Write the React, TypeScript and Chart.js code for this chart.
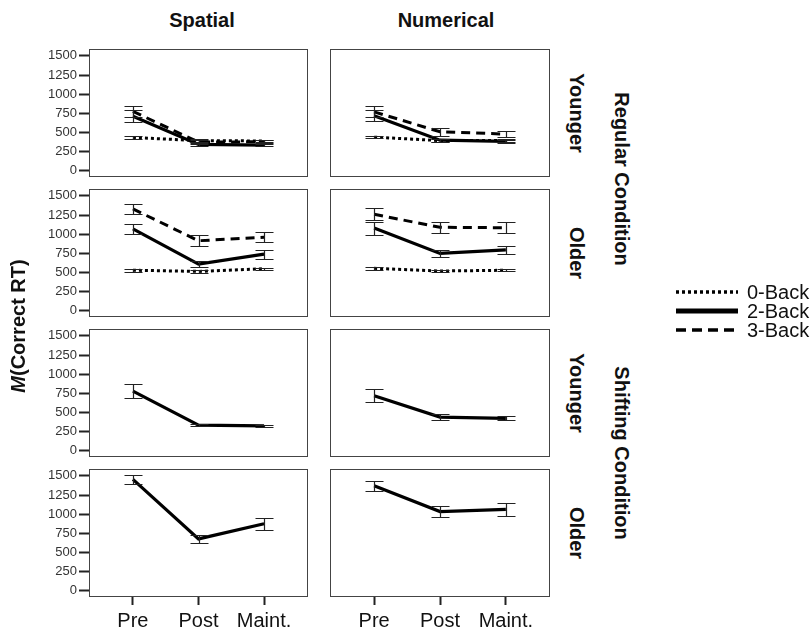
import React, { useEffect, useRef } from 'react';
import { Chart, registerables } from 'chart.js';

Chart.register(...registerables);

const phases = ['Pre', 'Post', 'Maint.'];
const yTicks = [0, 250, 500, 750, 1000, 1250, 1500];
const seriesNames = ['0-Back', '2-Back', '3-Back'];
const columnNames = ['Spatial', 'Numerical'];
const ageNames = ['Younger', 'Older', 'Younger', 'Older'];
const conditionNames = ['Regular Condition', 'Shifting Condition'];

// Regular condition, younger
const regYoungSpatial0 = [435, 395, 390];
const regYoungSpatial0Err = [15, 15, 15];
const regYoungSpatial2 = [712, 345, 335];
const regYoungSpatial2Err = [78, 20, 15];
const regYoungSpatial3 = [776, 375, 380];
const regYoungSpatial3Err = [76, 25, 20];

const regYoungNumerical0 = [440, 395, 395];
const regYoungNumerical0Err = [15, 15, 15];
const regYoungNumerical2 = [720, 400, 385];
const regYoungNumerical2Err = [75, 20, 15];
const regYoungNumerical3 = [770, 510, 480];
const regYoungNumerical3Err = [70, 55, 40];

// Regular condition, older
const regOldSpatial0 = [530, 515, 550];
const regOldSpatial0Err = [20, 18, 15];
const regOldSpatial2 = [1070, 610, 740];
const regOldSpatial2Err = [65, 40, 60];
const regOldSpatial3 = [1330, 915, 960];
const regOldSpatial3Err = [65, 70, 67];

const regOldNumerical0 = [555, 520, 530];
const regOldNumerical0Err = [20, 15, 15];
const regOldNumerical2 = [1080, 750, 795];
const regOldNumerical2Err = [85, 45, 55];
const regOldNumerical3 = [1260, 1090, 1085];
const regOldNumerical3Err = [80, 75, 70];

// Shifting condition
const shiftYoungSpatial = [780, 335, 325];
const shiftYoungSpatialErr = [95, 15, 10];
const shiftYoungNumerical = [720, 440, 425];
const shiftYoungNumericalErr = [85, 35, 25];
const shiftOldSpatial = [1455, 678, 875];
const shiftOldSpatialErr = [63, 55, 80];
const shiftOldNumerical = [1370, 1035, 1063];
const shiftOldNumericalErr = [67, 75, 80];

const FONT = '"Liberation Sans", Arial, Helvetica, sans-serif';
const DASHES = [[3, 3], [], [9, 6]];
const WIDTHS = [3, 3.2, 3];

type Series = { name: string; values: number[]; errs: number[]; dash: number[]; width: number };

const mk = (idx: number, values: number[], errs: number[]): Series => ({
  name: seriesNames[idx],
  values,
  errs,
  dash: DASHES[idx],
  width: WIDTHS[idx],
});

const panels: { row: number; col: number; series: Series[] }[] = [
  { row: 0, col: 0, series: [mk(0, regYoungSpatial0, regYoungSpatial0Err), mk(2, regYoungSpatial3, regYoungSpatial3Err), mk(1, regYoungSpatial2, regYoungSpatial2Err)] },
  { row: 0, col: 1, series: [mk(0, regYoungNumerical0, regYoungNumerical0Err), mk(2, regYoungNumerical3, regYoungNumerical3Err), mk(1, regYoungNumerical2, regYoungNumerical2Err)] },
  { row: 1, col: 0, series: [mk(0, regOldSpatial0, regOldSpatial0Err), mk(2, regOldSpatial3, regOldSpatial3Err), mk(1, regOldSpatial2, regOldSpatial2Err)] },
  { row: 1, col: 1, series: [mk(0, regOldNumerical0, regOldNumerical0Err), mk(2, regOldNumerical3, regOldNumerical3Err), mk(1, regOldNumerical2, regOldNumerical2Err)] },
  { row: 2, col: 0, series: [mk(1, shiftYoungSpatial, shiftYoungSpatialErr)] },
  { row: 2, col: 1, series: [mk(1, shiftYoungNumerical, shiftYoungNumericalErr)] },
  { row: 3, col: 0, series: [mk(1, shiftOldSpatial, shiftOldSpatialErr)] },
  { row: 3, col: 1, series: [mk(1, shiftOldNumerical, shiftOldNumericalErr)] },
];

const COL_LEFT = [89, 330];
const COL_W = [219, 220];
const ROW_TOP = [49, 189, 329, 469];
const BOX_H = 128;

const boxPlugin = {
  id: 'boxFrame',
  afterDraw(chart: any) {
    const { ctx, chartArea } = chart;
    ctx.save();
    ctx.strokeStyle = '#444';
    ctx.lineWidth = 1;
    ctx.strokeRect(
      Math.round(chartArea.left) + 0.5,
      Math.round(chartArea.top) + 0.5,
      Math.round(chartArea.right - chartArea.left) - 1,
      Math.round(chartArea.bottom - chartArea.top) - 1
    );
    ctx.restore();
  },
};

const errPlugin = {
  id: 'errBars',
  afterDatasetsDraw(chart: any) {
    const { ctx } = chart;
    const ys = chart.scales.y;
    chart.data.datasets.forEach((ds: any, i: number) => {
      const meta = chart.getDatasetMeta(i);
      (ds.errs || []).forEach((e: number, j: number) => {
        const pt = meta.data[j];
        if (!pt) return;
        const v = ds.data[j].y;
        const top = Math.round(ys.getPixelForValue(v + e)) + 0.5;
        const bot = Math.round(ys.getPixelForValue(v - e)) + 0.5;
        const x = Math.round(pt.x) + 0.5;
        ctx.save();
        ctx.strokeStyle = '#222';
        ctx.lineWidth = 1.2;
        ctx.setLineDash([]);
        ctx.beginPath();
        ctx.moveTo(x, top);
        ctx.lineTo(x, bot);
        ctx.moveTo(x - 9, top);
        ctx.lineTo(x + 9, top);
        ctx.moveTo(x - 9, bot);
        ctx.lineTo(x + 9, bot);
        ctx.stroke();
        ctx.restore();
      });
    });
  },
};

function Panel({ row, col, series }: { row: number; col: number; series: Series[] }) {
  const ref = useRef<HTMLCanvasElement>(null);
  const showY = col === 0;
  const showX = row === 3;
  const yAxisW = showY ? 60 : 0;
  const xAxisH = showX ? 38 : 0;
  const pad = 2;
  const boxW = COL_W[col];
  const cw = boxW + yAxisW + pad * 2;
  const ch = BOX_H + xAxisH + pad * 2;
  const left = COL_LEFT[col] - yAxisW - pad;
  const top = ROW_TOP[row] - pad;

  useEffect(() => {
    if (!ref.current) return;
    const chart = new Chart(ref.current, {
      type: 'line',
      data: {
        datasets: series.map((s) => ({
          label: s.name,
          data: s.values.map((v, i) => ({ x: i, y: v })),
          borderColor: '#000',
          borderWidth: s.width,
          borderDash: s.dash,
          borderCapStyle: 'butt',
          pointRadius: 0,
          tension: 0,
          fill: false,
          errs: s.errs,
        })) as any,
      },
      options: {
        animation: false,
        responsive: false,
        maintainAspectRatio: false,
        devicePixelRatio: 1,
        layout: { padding: pad },
        plugins: { legend: { display: false }, tooltip: { enabled: false } },
        scales: {
          x: {
            type: 'linear',
            min: -0.67,
            max: 2.67,
            display: showX,
            afterBuildTicks: (s: any) => {
              s.ticks = phases.map((_, i) => ({ value: i }));
            },
            afterFit: (s: any) => {
              s.height = xAxisH;
              s.paddingLeft = 0;
              s.paddingRight = 0;
            },
            ticks: {
              callback: (v: any) => phases[Number(v)],
              font: { family: FONT, size: 20 },
              color: '#111',
              padding: 4,
              maxRotation: 0,
              autoSkip: false,
            },
            grid: { drawOnChartArea: false, drawTicks: true, tickLength: 8, tickWidth: 2, tickColor: '#222' },
            border: { display: false },
          },
          y: {
            type: 'linear',
            min: -80,
            max: 1590,
            display: showY,
            afterBuildTicks: (s: any) => {
              s.ticks = yTicks.map((v) => ({ value: v }));
            },
            afterFit: (s: any) => {
              s.width = yAxisW;
              s.paddingTop = 0;
              s.paddingBottom = 0;
            },
            ticks: {
              callback: (v: any) => String(v),
              font: { family: FONT, size: 13 },
              color: '#333',
              padding: 2,
              autoSkip: false,
            },
            grid: { drawOnChartArea: false, drawTicks: true, tickLength: 10, tickWidth: 2, tickColor: '#222' },
            border: { display: false },
          },
        },
      } as any,
      plugins: [boxPlugin, errPlugin],
    });
    return () => chart.destroy();
  }, []);

  return (
    <canvas
      ref={ref}
      width={cw}
      height={ch}
      style={{ position: 'absolute', left, top, width: cw, height: ch }}
    />
  );
}

function Label({ x, y, rot = 0, size = 20, bold = true, children }: any) {
  return (
    <div
      style={{
        position: 'absolute',
        left: x,
        top: y,
        transform: `translate(-50%, -50%) rotate(${rot}deg)`,
        whiteSpace: 'nowrap',
        fontFamily: FONT,
        fontSize: size,
        fontWeight: bold ? 700 : 400,
        lineHeight: 1,
        color: '#111',
      }}
    >
      {children}
    </div>
  );
}

const legendY = [292, 311, 330];

export default function App() {
  return (
    <div style={{ position: 'absolute', left: 0, top: 0, width: 811, height: 631, background: '#fff', overflow: 'hidden' }}>
      {panels.map((p, i) => (
        <Panel key={i} row={p.row} col={p.col} series={p.series} />
      ))}
      <Label x={202} y={20}>{columnNames[0]}</Label>
      <Label x={446} y={20}>{columnNames[1]}</Label>
      {ageNames.map((a, i) => (
        <Label key={a + i} x={577} y={ROW_TOP[i] + BOX_H / 2} rot={90}>{a}</Label>
      ))}
      <Label x={622} y={179} rot={90}>{conditionNames[0]}</Label>
      <Label x={622} y={453} rot={90}>{conditionNames[1]}</Label>
      <Label x={18} y={326} rot={-90}><i>M</i>(Correct RT)</Label>
      <svg style={{ position: 'absolute', left: 0, top: 0 }} width={811} height={631}>
        {seriesNames.map((n, i) => (
          <line
            key={n}
            x1={676}
            x2={738}
            y1={legendY[i]}
            y2={legendY[i]}
            stroke="#000"
            strokeWidth={i === 1 ? 5 : 3.5}
            strokeDasharray={i === 0 ? '3 3' : i === 2 ? '10 6' : undefined}
          />
        ))}
      </svg>
      {seriesNames.map((n, i) => (
        <div
          key={n}
          style={{
            position: 'absolute',
            left: 747,
            top: legendY[i] - 11,
            fontFamily: FONT,
            fontSize: 20,
            lineHeight: '22px',
            color: '#111',
            whiteSpace: 'nowrap',
          }}
        >
          {n}
        </div>
      ))}
    </div>
  );
}
